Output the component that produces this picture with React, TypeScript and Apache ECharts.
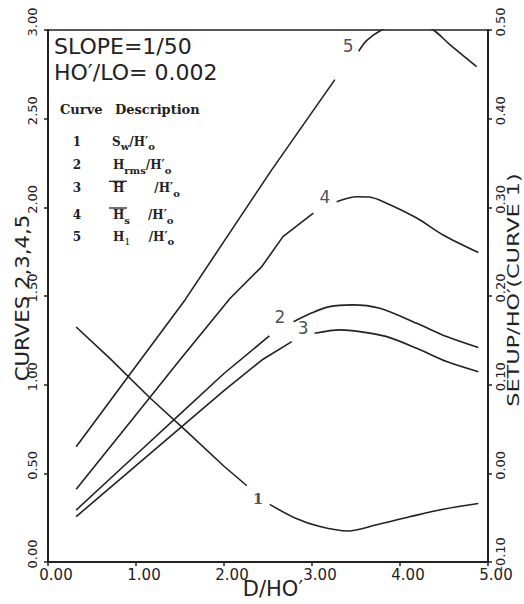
import { useEffect, useRef } from "react";
import * as echarts from "echarts";

// ---- data ----
const xTicks = [0, 1, 2, 3, 4, 5];
// Curve 1: setup S_w/H'o (right axis), split around its label
const curve1a = [[0.32, 0.165], [0.7, 0.13], [1.16, 0.085], [1.6, 0.045], [2.0, 0.008], [2.26, -0.014]];
const curve1b = [[2.52, -0.035], [2.8, -0.05], [3.09, -0.06], [3.41, -0.065], [3.735, -0.058], [4.11, -0.049], [4.49, -0.0405], [4.89, -0.034]];
// Curve 2: Hrms/H'o
const curve2a = [[0.32, 0.293], [1.0, 0.605], [1.5, 0.834], [2.0, 1.063], [2.515, 1.275]];
const curve2b = [[2.79, 1.355], [3.0, 1.405], [3.2, 1.44], [3.45, 1.45], [3.77, 1.431], [4.19, 1.346], [4.53, 1.271], [4.89, 1.209]];
// Curve 3: Hbar/H'o
const curve3a = [[0.32, 0.256], [1.0, 0.543], [1.5, 0.755], [2.0, 0.966], [2.43, 1.139], [2.77, 1.243]];
const curve3b = [[3.03, 1.29], [3.32, 1.309], [3.545, 1.299], [3.85, 1.271], [4.19, 1.205], [4.53, 1.13], [4.89, 1.073]];
// Curve 4: Hs/H'o
const curve4a = [[0.32, 0.41], [1.0, 0.83], [1.5, 1.14], [2.07, 1.487], [2.43, 1.666], [2.67, 1.835], [3.015, 1.967]];
const curve4b = [[3.28, 2.032], [3.51, 2.06], [3.65, 2.058], [3.81, 2.032], [4.19, 1.94], [4.49, 1.844], [4.89, 1.745]];
// Curve 5: H1/H'o (clipped at the top of the frame)
const curve5a = [[0.32, 0.65], [1.0, 1.105], [1.557, 1.478], [2.0, 1.808], [2.54, 2.21], [3.26, 2.72]];
const curve5b = [[3.53, 2.88], [3.62, 2.94], [3.79, 3.0], [4.0, 3.04], [4.2, 3.035], [4.38, 3.0], [4.57, 2.916], [4.87, 2.794]];
// Curve number labels (data coords)
const curveLabelsLeft = [[2.636, 1.384, "2"], [2.9, 1.318, "3"], [3.148, 2.06, "4"], [3.41, 2.91, "5"]];
const curveLabelsRight = [[2.385, -0.029, "1"]];
const legendNumbers = ["1", "2", "3", "4", "5"];
const legendRows = [
  "{m|S}{s|w}{m|/H′}{s|o}",
  "{m|H}{s|rms}{m|/H′}{s|o}",
  "{m|H}{g1| }{m|/H′}{s|o}",
  "{m|H}{s|s}{g2| }{m|/H′}{s|o}",
  "{m|H}{n|1}{g2| }{m|/H′}{s|o}",
];

const INK = "#222";

export default function App() {
  const ref = useRef<HTMLDivElement>(null);
  useEffect(() => {
    if (!ref.current) return;
    const chart = echarts.init(ref.current, null, { renderer: "svg" });
    const sans = "DejaVu Sans";
    const serif = "DejaVu Serif";
    const lineSeries = (data: number[][], yAxisIndex: number, smooth: number | boolean) => ({
      type: "line",
      data,
      yAxisIndex,
      symbol: "none",
      smooth,
      clip: true,
      lineStyle: { color: INK, width: 1.6 },
      silent: true,
    });
    const rowY = [141.7, 165, 188.3, 215, 236.7];
    const rowX = [112, 113, 113, 113, 113];
    const rich = {
      m: { fontFamily: serif, fontWeight: "bold", fontSize: 12, fill: INK },
      s: { fontFamily: serif, fontWeight: "bold", fontSize: 10, fill: INK, padding: [10, 0, 0, 0] },
      n: { fontFamily: serif, fontWeight: "normal", fontSize: 10, fill: INK, padding: [10, 0, 0, 0] },
      g1: { fontSize: 10, width: 30 },
      g2: { fontSize: 10, width: 18 },
    };
    const bar = (y: number) => ({
      type: "line", shape: { x1: 109, y1: y - 7, x2: 127, y2: y - 7 }, style: { stroke: INK, lineWidth: 1.3 },
    });
    const graphic: any[] = [
      { type: "text", x: 54, y: 46.7, style: { text: "SLOPE=1/50", fontFamily: sans, fontSize: 22, fill: INK, align: "left", verticalAlign: "middle" } },
      { type: "text", x: 54, y: 72.5, style: { text: "HO′/LO= 0.002", fontFamily: sans, fontSize: 22, fill: INK, align: "left", verticalAlign: "middle" } },
      { type: "text", x: 60, y: 109, style: { text: "Curve", fontFamily: serif, fontWeight: "bold", fontSize: 13, fill: INK, align: "left", verticalAlign: "middle" } },
      { type: "text", x: 115, y: 109, style: { text: "Description", fontFamily: serif, fontWeight: "bold", fontSize: 13, fill: INK, align: "left", verticalAlign: "middle" } },
      ...legendNumbers.map((n, i) => ({
        type: "text", x: 77, y: rowY[i],
        style: { text: n, fontFamily: serif, fontWeight: "bold", fontSize: 12, fill: INK, align: "center", verticalAlign: "middle" },
      })),
      ...legendRows.map((r, i) => ({
        type: "text", x: rowX[i], y: rowY[i],
        style: { text: r, rich, fontFamily: serif, fontSize: 12, fill: INK, align: "left", verticalAlign: "middle" },
      })),
      bar(rowY[2]), bar(rowY[3]),
      // axis titles
      { type: "text", x: 22, y: 298, rotation: Math.PI / 2, scaleX: 1.12,
        style: { text: "CURVES 2,3,4,5", fontFamily: sans, fontSize: 19, fill: INK, align: "center", verticalAlign: "middle" } },
      { type: "text", x: 513.5, y: 290, rotation: Math.PI / 2, scaleX: 1.4,
        style: { text: "SETUP/HO′(CURVE 1)", fontFamily: sans, fontSize: 16, fill: INK, align: "center", verticalAlign: "middle" } },
      { type: "text", x: 273, y: 589,
        style: { text: "D/HO′", fontFamily: sans, fontSize: 21, fill: INK, align: "center", verticalAlign: "middle" } },
    ];

    chart.setOption({
      animation: false,
      backgroundColor: "#fff",
      grid: { left: 48, right: 36, top: 30, bottom: 42, show: true, borderColor: INK, borderWidth: 1.5, backgroundColor: "transparent" },
      xAxis: {
        type: "value", min: xTicks[0], max: xTicks[xTicks.length - 1], interval: 1,
        axisLine: { lineStyle: { color: INK, width: 2 } },
        axisTick: { show: true, length: 4, lineStyle: { color: INK, width: 1.5 } },
        splitLine: { show: false },
        axisLabel: { formatter: (v: number) => v.toFixed(2), fontFamily: sans, fontSize: 15, color: INK, margin: 5, padding: [0, 0, 0, 16], showMinLabel: true, showMaxLabel: true },
      },
      yAxis: [
        {
          type: "value", min: 0, max: 3, interval: 0.5, position: "left",
          axisLine: { show: true, lineStyle: { color: INK, width: 2 } },
          axisTick: { show: true, length: 4, lineStyle: { color: INK, width: 1.5 } },
          splitLine: { show: false },
          axisLabel: { rotate: 90, formatter: (v: number) => v.toFixed(2), fontFamily: sans, fontSize: 13, color: INK, margin: 9, padding: [0, 0, 0, 16], showMinLabel: true, showMaxLabel: true },
        },
        {
          type: "value", min: -0.1, max: 0.5, interval: 0.1, position: "right",
          axisLine: { show: true, lineStyle: { color: INK, width: 2 } },
          axisTick: { show: true, length: 4, lineStyle: { color: INK, width: 1.5 } },
          splitLine: { show: false },
          axisLabel: { rotate: 90, formatter: (v: number) => v.toFixed(2), fontFamily: sans, fontSize: 13, color: INK, margin: 6, padding: [0, 0, 0, 16], showMinLabel: true, showMaxLabel: true },
        },
      ],
      series: [
        lineSeries(curve1a, 1, false), lineSeries(curve1b, 1, 0.3),
        lineSeries(curve2a, 0, false), lineSeries(curve2b, 0, 0.3),
        lineSeries(curve3a, 0, false), lineSeries(curve3b, 0, 0.3),
        lineSeries(curve4a, 0, false), lineSeries(curve4b, 0, 0.3),
        lineSeries(curve5a, 0, false), lineSeries(curve5b, 0, 0.3),
        {
          type: "scatter", yAxisIndex: 0, symbolSize: 1, itemStyle: { color: "transparent" }, silent: true,
          data: curveLabelsLeft,
          label: { show: true, position: "inside", formatter: (p: any) => p.data[2], fontFamily: sans, fontSize: 17, color: INK },
        },
        {
          type: "scatter", yAxisIndex: 1, symbolSize: 1, itemStyle: { color: "transparent" }, silent: true,
          data: curveLabelsRight,
          label: { show: true, position: "inside", formatter: (p: any) => p.data[2], fontFamily: serif, fontWeight: "bold", fontSize: 15, color: INK },
        },
      ],
      graphic,
    });
    return () => chart.dispose();
  }, []);
  return <div ref={ref} style={{ position: "fixed", left: 0, top: 0, width: 524, height: 604, background: "#fff" }} />;
}
